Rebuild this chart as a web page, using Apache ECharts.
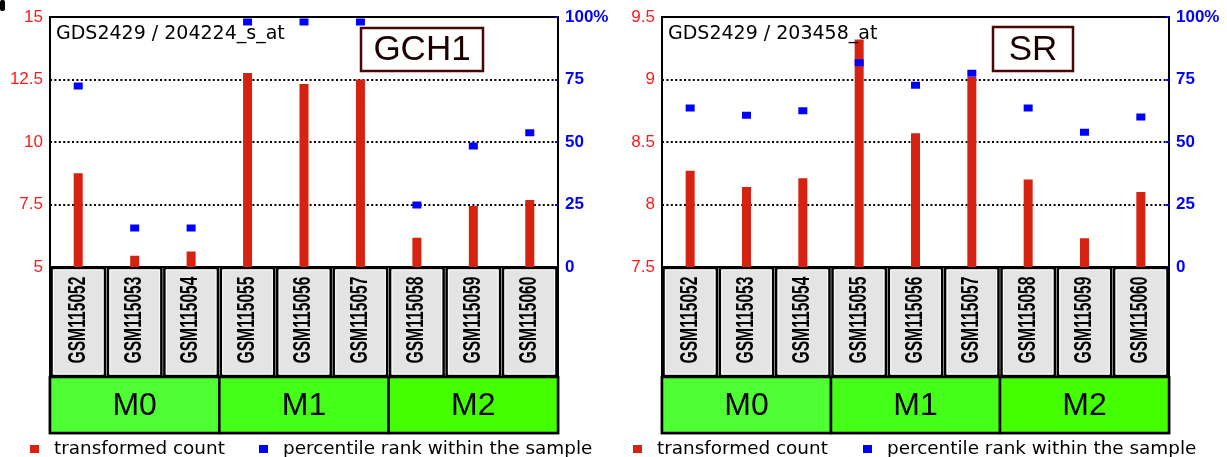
<!DOCTYPE html>
<html><head><meta charset="utf-8">
<script src="https://cdn.jsdelivr.net/npm/echarts@6/dist/echarts.min.js"></script>
<style>html,body{margin:0;padding:0;background:#fff}#c{width:1227px;height:457px}</style>
</head><body><div id="c"></div>
<script>
// ---------- data ----------
const categories = ['GSM115052','GSM115053','GSM115054','GSM115055','GSM115056','GSM115057','GSM115058','GSM115059','GSM115060'];
const groupNames = ['M0','M1','M2'];
const groupStart = [0,3,6];
const groupEnd = [2,5,8];

const gch1Title = 'GDS2429 / 204224_s_at';
const gch1Gene = 'GCH1';
const gch1Count = [8.75,5.45,5.62,12.76,12.32,12.5,6.17,7.44,7.68];
const gch1Pct = [72.4,15.6,15.6,98,98,98,24.8,48.4,53.7];
const gch1Ticks = [5,7.5,10,12.5,15];

const srTitle = 'GDS2429 / 203458_at';
const srGene = 'SR';
const srCount = [8.27,8.14,8.21,9.32,8.57,9.02,8.2,7.73,8.1];
const srPct = [63.6,60.7,62.5,81.7,72.7,77.5,63.6,53.9,60];
const srTicks = [7.5,8,8.5,9,9.5];

const pctTicks = [0,25,50,75,100];
const legendNames = ['transformed count','percentile rank within the sample'];

// ---------- layout / style ----------
const RED = '#d52211', BLUE = '#0000ff';
const groupFills = ['#4dff33','#45ff18','#44ff00'];
const panels = [
  {left:50, width:508, title:gch1Title, gene:gch1Gene, count:gch1Count, pct:gch1Pct, ticks:gch1Ticks,
   geneBox:[361,28,122,43], legendX:[30,259]},
  {left:662, width:507, title:srTitle, gene:srGene, count:srCount, pct:srPct, ticks:srTicks,
   geneBox:[993,27,80,44], legendX:[633,863]}
];
const TOP = 17, MAINH = 250, CELLH = 110, GRPH = 56;

const option = {animation:false, grid:[], xAxis:[], yAxis:[], series:[], graphic:[], legend:[]};

panels.forEach((p, pi) => {
  const g0 = option.grid.length;
  option.grid.push(
    {left:p.left, top:TOP, width:p.width, height:MAINH, show:true, borderColor:'#000', borderWidth:2, backgroundColor:'#fff'},
    {left:p.left, top:TOP+MAINH, width:p.width, height:CELLH, show:true, borderColor:'#000', borderWidth:2, backgroundColor:'#fff'},
    {left:p.left, top:TOP+MAINH+CELLH, width:p.width, height:GRPH, show:true, borderColor:'#000', borderWidth:2.5, backgroundColor:'#fff'}
  );
  const x0 = option.xAxis.length;
  option.xAxis.push(
    {type:'category', gridIndex:g0, data:categories, axisLine:{show:false}, axisTick:{show:false}, axisLabel:{show:false}},
    {type:'category', gridIndex:g0+1, data:categories, axisLine:{show:false}, axisTick:{show:false}, axisLabel:{show:false}},
    {type:'value', gridIndex:g0+2, min:-0.5, max:categories.length-0.5, show:false, splitLine:{show:false}}
  );
  const y0 = option.yAxis.length;
  const t = p.ticks;
  option.yAxis.push(
    {type:'value', gridIndex:g0, position:'left', min:t[0], max:t[t.length-1], interval:t[1]-t[0],
     axisLine:{show:false}, axisTick:{show:false},
     axisLabel:{color:'#ff1a1a', fontFamily:'Liberation Sans, Arial', fontSize:17, margin:7},
     splitLine:{show:true, lineStyle:{color:'#000', width:2, type:[2,2.4]}}},
    {type:'value', gridIndex:g0, position:'right', min:pctTicks[0], max:pctTicks[pctTicks.length-1], interval:pctTicks[1]-pctTicks[0],
     axisLine:{show:false}, axisTick:{show:true, inside:true, length:3, lineStyle:{color:'#0000ff', width:2}},
     axisLabel:{color:'#0000ff', fontFamily:'Liberation Sans, Arial', fontWeight:'bold', fontSize:17, margin:7,
       formatter: v => v === 100 ? '100%' : String(v)},
     splitLine:{show:false}},
    {type:'value', gridIndex:g0+1, min:0, max:1, show:false, splitLine:{show:false}},
    {type:'value', gridIndex:g0+2, min:0, max:1, show:false, splitLine:{show:false}}
  );
  option.series.push(
    {name:legendNames[0], type:'bar', xAxisIndex:x0, yAxisIndex:y0, data:p.count, barWidth:9,
     itemStyle:{color:RED}, z:2},
    {name:legendNames[1], type:'scatter', xAxisIndex:x0, yAxisIndex:y0+1, data:p.pct, symbol:'rect', symbolSize:[9,7],
     itemStyle:{color:BLUE, opacity:1}, z:3},
    {type:'custom', xAxisIndex:x0+1, yAxisIndex:y0+2, data:categories.map((c,i)=>[i,0.5]), clip:false,
     renderItem:(params, api) => {
       const idx = api.value(0);
       const c = api.coord([idx, 0.5]);
       const w = api.size([1,0])[0];
       const cs = params.coordSys;
       return {type:'group', children:[
         {type:'rect', shape:{x:c[0]-w/2+1.5, y:cs.y+1, width:w-3, height:cs.height-2},
          style:{fill:'#e4e4e4', stroke:'#000', lineWidth:2.5}},
         {type:'rect', shape:{x:c[0]-w/2+3.5, y:cs.y+3, width:w-7, height:cs.height-6},
          style:{fill:'none', stroke:'#fafafa', lineWidth:1}},
         {type:'text', x:c[0], y:c[1]-2, rotation:Math.PI/2, scaleX:0.68,
          style:{text:categories[params.dataIndex], font:'bold 23px "Liberation Sans", Arial', fill:'#000',
                 align:'center', verticalAlign:'middle'}}
       ]};
     }},
    {type:'custom', xAxisIndex:x0+2, yAxisIndex:y0+3, data:groupNames.map((n,i)=>[groupStart[i], groupEnd[i]]), clip:false,
     renderItem:(params, api) => {
       const a = api.coord([api.value(0)-0.5, 1]);
       const b = api.coord([api.value(1)+0.5, 0]);
       return {type:'group', children:[
         {type:'rect', shape:{x:a[0], y:a[1], width:b[0]-a[0], height:b[1]-a[1]},
          style:{fill:groupFills[params.dataIndex], stroke:'#000', lineWidth:2.5}},
         {type:'text', x:(a[0]+b[0])/2, y:(a[1]+b[1])/2+1,
          style:{text:groupNames[params.dataIndex], font:'32px "Liberation Sans", Arial', fill:'#000',
                 align:'center', verticalAlign:'middle'}}
       ]};
     }}
  );
  option.graphic.push(
    {type:'text', left:p.left+6, top:25, z:100,
     style:{text:p.title, font:'19px "DejaVu Sans"', fill:'#000'}},
    {type:'rect', z:100, shape:{x:p.geneBox[0], y:p.geneBox[1], width:p.geneBox[2], height:p.geneBox[3]},
     style:{fill:'#fff', stroke:'#4a0505', lineWidth:2.5}},
    {type:'text', z:101, x:p.geneBox[0]+p.geneBox[2]/2, y:p.geneBox[1]+p.geneBox[3]/2+1,
     style:{text:p.gene, font:'35px "Liberation Sans", Arial', fill:'#1a0000', align:'center', verticalAlign:'middle'}}
  );
  legendNames.forEach((n, li) => {
    option.legend.push({data:[{name:n, icon:'rect'}], left:p.legendX[li], top:440, padding:0,
      itemWidth:9, itemHeight:8, selectedMode:false,
      textStyle:{fontFamily:'DejaVu Sans', fontSize:18.4, color:'#000', padding:[0,0,0,10]}});
  });
});

option.graphic.push({type:'rect', shape:{x:0, y:0, width:5, height:11, r:2}, style:{fill:'#000'}});

const chart = echarts.init(document.getElementById('c'), null, {renderer:'canvas'});
chart.setOption(option);
</script></body></html>
